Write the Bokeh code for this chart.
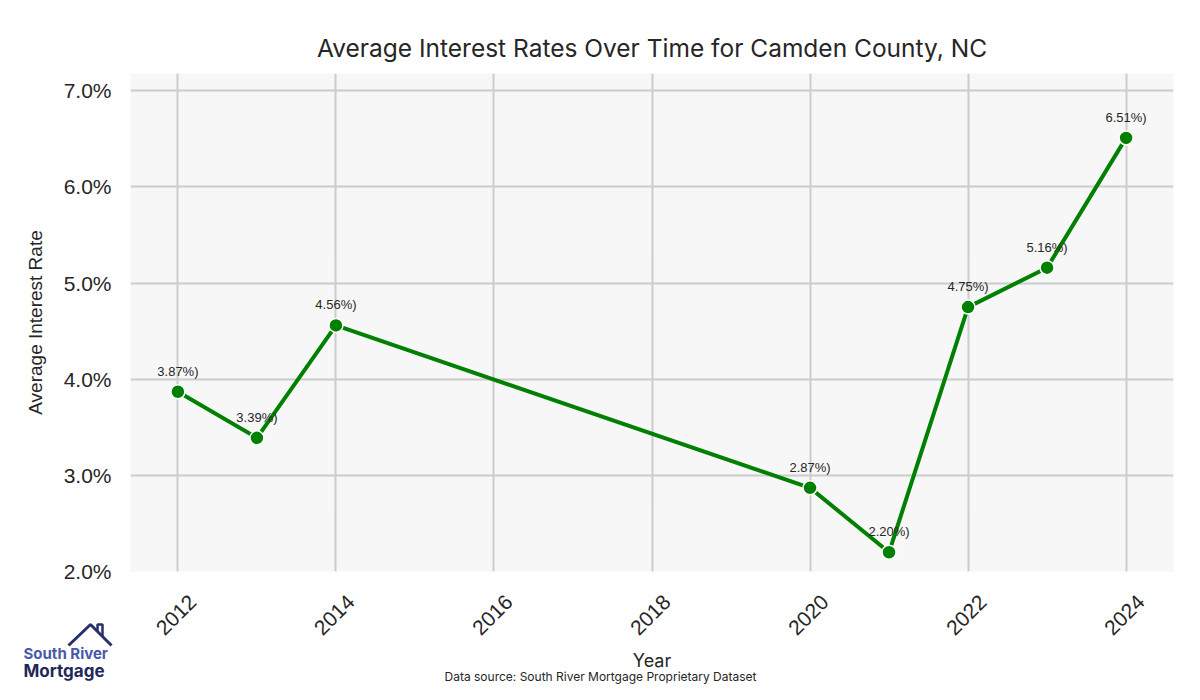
import math
from bokeh.plotting import figure
from bokeh.layouts import column
from bokeh.models import (ColumnDataSource, Range1d, SingleIntervalTicker, PrintfTickFormatter,
                          FixedTicker, CustomJSTickFormatter)
from bokeh.core.properties import value
from bokeh.embed import file_html
from bokeh.resources import INLINE

years = [2012, 2013, 2014, 2020, 2021, 2022, 2023, 2024]
rates = [3.87, 3.39, 4.56, 2.87, 2.20, 4.75, 5.16, 6.51]
point_labels = [f"{r:.2f}%)" for r in rates]
tick_years = [2012, 2014, 2016, 2018, 2020, 2022, 2024]

title_text = "Average Interest Rates Over Time for Camden County, NC"
x_label = "Year"
y_label = "Average Interest Rate"
footer_text = "Data source: South River Mortgage Proprietary Dataset"
logo_top = "South River"
logo_bottom = "Mortgage"

X0, X1, Y0, Y1 = 2011.4, 2024.6, 2.0, 7.18
W, H = 1184, 684
FL, FT, FR, FB = 130, 73, 1173, 571   # frame edges in page pixels
LABEL_SHIFT_PX = 15                   # rotated tick labels are centred on the tick
x_per_px = (X1 - X0) / (FR - FL)

src = ColumnDataSource(dict(x=years, y=rates, lab=point_labels))

p = figure(width=W, height=H, output_backend="svg", toolbar_location=None,
           x_range=Range1d(X0, X1), y_range=Range1d(Y0, Y1),
           min_border_left=FL, min_border_right=W - FR, min_border_top=FT, min_border_bottom=H - FB)
p.background_fill_color = "#f7f7f7"
p.border_fill_color = "white"
p.outline_line_color = None

p.title.text = title_text
p.title.text_font = "Inter"
p.title.text_font_size = "24.5px"
p.title.text_font_style = "normal"
p.title.text_color = "#262626"
p.title.align = "center"
p.title.standoff = 21

p.xgrid.grid_line_color = "#cccccc"
p.ygrid.grid_line_color = "#cccccc"
p.xgrid.grid_line_width = 2
p.ygrid.grid_line_width = 2
p.xgrid.ticker = FixedTicker(ticks=tick_years)

p.xaxis.ticker = FixedTicker(ticks=[t + LABEL_SHIFT_PX * x_per_px for t in tick_years])
p.xaxis.formatter = CustomJSTickFormatter(code="return Math.round(tick).toString()")
p.yaxis.ticker = SingleIntervalTicker(interval=1)
p.ygrid.ticker = SingleIntervalTicker(interval=1)
p.yaxis.formatter = PrintfTickFormatter(format="%.1f%%")
for ax in (p.xaxis, p.yaxis):
    ax.axis_line_color = None
    ax.major_tick_line_color = None
    ax.minor_tick_line_color = None
    ax.major_tick_out = 0
    ax.major_tick_in = 0
    ax.minor_tick_out = 0
    ax.major_label_text_font = "Liberation Sans"
    ax.major_label_text_font_size = "21px"
    ax.major_label_text_color = "#262626"
    ax.axis_label_text_font_style = "normal"
    ax.axis_label_text_color = "#262626"
p.xaxis.major_label_orientation = math.pi / 4
p.xaxis.major_label_standoff = 27
p.yaxis.major_label_standoff = 19
p.xaxis.axis_label = x_label
p.yaxis.axis_label = y_label
p.xaxis.axis_label_text_font = "Inter"
p.xaxis.axis_label_text_font_size = "18px"
p.yaxis.axis_label_text_font = "Liberation Sans"
p.yaxis.axis_label_text_font_size = "19px"
p.xaxis.axis_label_standoff = 6
p.yaxis.axis_label_standoff = 15

p.line("x", "y", source=src, line_color="#008000", line_width=4)
p.scatter("x", "y", source=src, size=14, fill_color="#008000", line_color="white", line_width=1.5)
p.text("x", "y", text="lab", source=src, y_offset=-13, text_align="center", text_baseline="bottom",
       text_font=value("Liberation Sans"), text_font_size="13px", text_color="#262626")

# transparent strip over the bottom of the page for the logo and source note (page-pixel coordinates).
# The column aligns the strip's frame with the main plot's frame (left edge and width), so the strip
# is shifted left by FL and its x range spans the frame width in pixels.
STRIP = 80
q = figure(width=W + FL, height=STRIP, output_backend="svg", toolbar_location=None,
           x_range=Range1d(0, FR - FL), y_range=Range1d(H, H - STRIP),
           min_border=0, margin=(-STRIP, 0, 0, -FL))
q.axis.visible = False
q.grid.visible = False
q.outline_line_color = None
q.background_fill_color = None
q.border_fill_color = None
q.text([600], [676], text=[footer_text], text_align="center", text_baseline="middle",
       text_font=value("Inter"), text_font_size="12px", text_color="#262626")
q.text([23], [653], text=[logo_top], text_align="left", text_baseline="middle",
       text_font=value("Inter"), text_font_size="15px", text_font_style="bold", text_color="#4a5aa8")
q.text([23], [670], text=[logo_bottom], text_align="left", text_baseline="middle",
       text_font=value("Inter"), text_font_size="17px", text_font_style="bold", text_color="#1f2858")
q.line([68, 90, 111], [645, 624, 645], line_color="#27306b", line_width=3)
q.line([97, 97, 102, 102], [631, 624, 624, 636], line_color="#27306b", line_width=2.5)

layout = column(p, q, spacing=0)
open("out.html", "w").write(file_html(layout, INLINE))
